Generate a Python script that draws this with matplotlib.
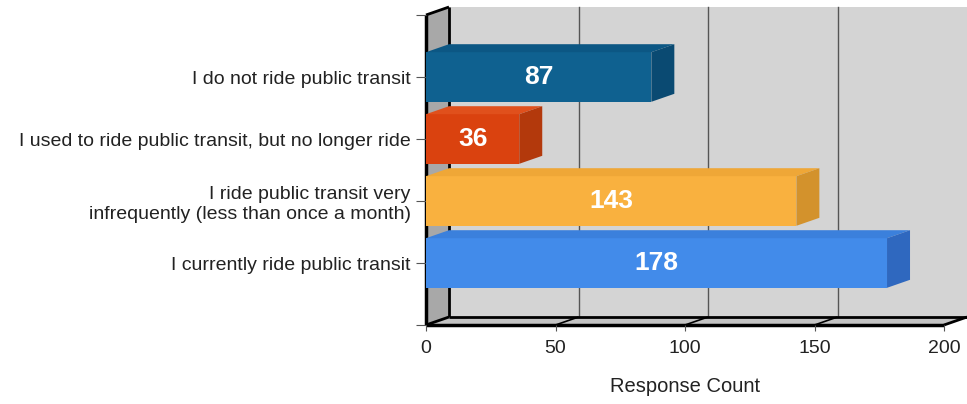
import matplotlib.pyplot as plt
from matplotlib.patches import Polygon, Rectangle

plt.rcParams['font.family'] = ['Liberation Sans', 'DejaVu Sans']

# survey answers, top to bottom
categories = [
    "I do not ride public transit",
    "I used to ride public transit, but no longer ride",
    "I ride public transit very\ninfrequently (less than once a month)",
    "I currently ride public transit",
]
counts = [87, 36, 143, 178]
x_ticks = [0, 50, 100, 150, 200]

front_colors = ["#0f6190", "#da420f", "#f9b13f", "#428bea"]
top_colors = ["#0c5784", "#e0501c", "#efa737", "#3b80dc"]
side_colors = ["#0a4a72", "#b3390c", "#d3922c", "#2f68bf"]


def main():
    fig = plt.figure(figsize=(9.67, 4.04), dpi=100)
    ax = fig.add_axes([426 / 967, 1 - 325 / 404, 518 / 967, 310 / 404])
    ax.set_xlim(0, 200)
    ax.set_ylim(4, -1)
    ax.patch.set_visible(False)
    for s in ax.spines.values():
        s.set_visible(False)

    # depth offset of the fake 3d box, in data units (23 px right, 8 px up)
    dx = 23 / (518 / 200)
    dy = 8 / 62

    y0, y1 = 4, -1
    # back wall and grid
    ax.add_patch(Rectangle((dx, y1 - dy), 200, y0 - y1, facecolor="#d4d4d4",
                           edgecolor="none", zorder=0, clip_on=False))
    for t in x_ticks[1:-1]:
        ax.plot([t + dx, t + dx], [y0 - dy, y1 - dy], color="#555555", lw=1,
                zorder=0.5, clip_on=False)

    # left wall
    ax.add_patch(Polygon([(0, y0), (0, y1), (dx, y1 - dy), (dx, y0 - dy)],
                         closed=True, facecolor="#a8a8a8", edgecolor="none",
                         zorder=1, clip_on=False))
    # floor
    ax.add_patch(Polygon([(0, y0), (200, y0), (200 + dx, y0 - dy), (dx, y0 - dy)],
                         closed=True, facecolor="#c4c4c4", edgecolor="none",
                         zorder=1, clip_on=False))
    line_kw = dict(color="black", zorder=1.5, clip_on=False, solid_capstyle="butt")
    ax.plot([0, 0], [y0, y1], lw=2.5, **line_kw)
    ax.plot([dx, dx], [y0 - dy, y1 - dy], lw=2, **line_kw)
    ax.plot([0, dx], [y1, y1 - dy], lw=2, **line_kw)
    ax.plot([0, 200], [y0, y0], lw=2.5, **line_kw)
    ax.plot([dx, 200 + dx], [y0 - dy, y0 - dy], lw=2, **line_kw)
    ax.plot([0, dx], [y0, y0 - dy], lw=2, **line_kw)
    for t in x_ticks[1:]:
        ax.plot([t, t + dx], [y0, y0 - dy], lw=1.2 if t < 200 else 2, **line_kw)

    # bars
    h = 0.8
    for i, v in enumerate(counts):
        top, bot = i - h / 2, i + h / 2
        ax.barh(i, v, height=h, color=front_colors[i], zorder=3)
        ax.add_patch(Polygon([(0, top), (v, top), (v + dx, top - dy), (dx, top - dy)],
                             closed=True, facecolor=top_colors[i], edgecolor="none",
                             zorder=3, clip_on=False))
        ax.add_patch(Polygon([(v, top), (v + dx, top - dy), (v + dx, bot - dy), (v, bot)],
                             closed=True, facecolor=side_colors[i], edgecolor="none",
                             zorder=3, clip_on=False))
        ax.text(v / 2, i, str(v), color="white", fontsize=19, fontweight="bold",
                ha="center", va="center", zorder=4)

    ax.set_yticks([-1, 0, 1, 2, 3, 4])
    ax.set_yticklabels([""] + categories + [""], fontsize=14, color="#222222")
    ax.set_xticks(x_ticks)
    ax.set_xticklabels([str(t) for t in x_ticks], fontsize=14, color="#222222")
    ax.tick_params(axis="y", length=7, color="#555555", pad=4)
    ax.tick_params(axis="x", length=4, color="#555555", pad=7)
    ax.set_xlabel("Response Count", fontsize=14.5, color="#222222", labelpad=14)

    fig.savefig("out.png", dpi=100, facecolor="white")


if __name__ == "__main__":
    main()
